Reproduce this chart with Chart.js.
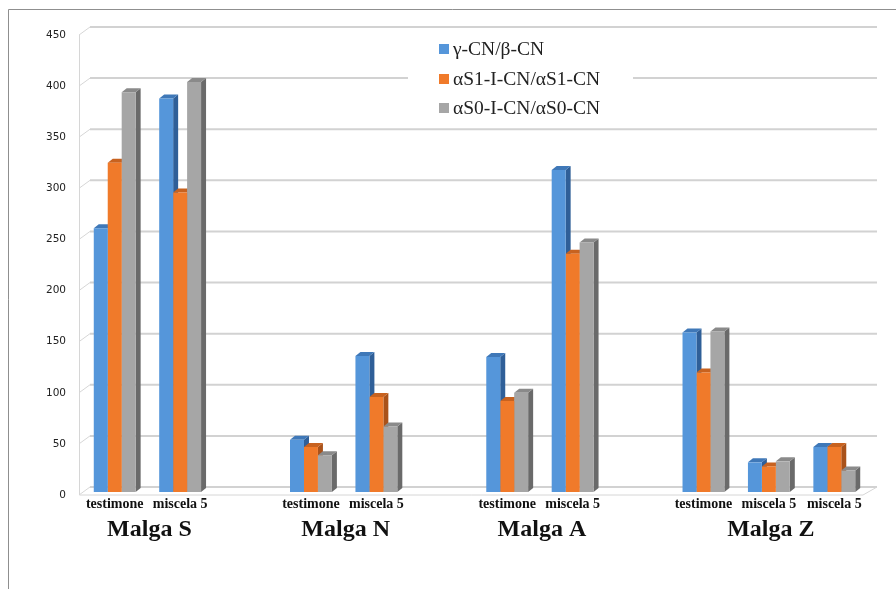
<!DOCTYPE html>
<html>
<head>
<meta charset="utf-8">
<title>Rapporti caseine per malga</title>
<style>
  html, body { margin: 0; padding: 0; background: #ffffff; }
  #wrap { width: 896px; height: 589px; position: relative; }
</style>
<script src="https://cdn.jsdelivr.net/npm/chart.js@4.4.1/dist/chart.umd.min.js"></script>
</head>
<body>
<div id="wrap"><canvas id="chart" width="896" height="589"></canvas></div>
<script>
// Samples per pasture; empty slots separate the pastures
const categories = ['testimone', 'miscela 5', '', 'testimone', 'miscela 5', '', 'testimone', 'miscela 5', '', 'testimone', 'miscela 5', 'miscela 5'];
const seriesNames = ['γ-CN/β-CN', 'αS1-I-CN/αS1-CN', 'αS0-I-CN/αS0-CN'];
const gammaBeta = [258, 385, null, 51, 133, null, 132, 315, null, 156, 29, 44];
const alphaS1 = [322, 293, null, 44, 93, null, 89, 233, null, 117, 25, 44];
const alphaS0 = [391, 401, null, 36, 64, null, 97, 244, null, 157, 30, 21];
const yTicks = [0, 50, 100, 150, 200, 250, 300, 350, 400, 450];
const groupLabels = ['Malga S', 'Malga N', 'Malga A', 'Malga Z'];
const groupFirst = [0, 3, 6, 9];
const groupLast = [1, 4, 7, 11];

const frontColors = ['#5596da', '#f07a2a', '#a6a6a6'];
const sideColors = ['#2f5f98', '#a9521a', '#6a6a6a'];
const topColors = ['#3f78b8', '#c8621f', '#8a8a8a'];

const DX = 5, DY = 4;           // depth of the bar side / top faces
const WALL_DX = 11, WALL_DY = 8; // depth of the back wall

const depthPlugin = {
  id: 'depth',
  beforeDatasetsDraw(chart) {
    const ctx = chart.ctx;
    const ys = chart.scales.y;
    const a = chart.chartArea;
    const fx = a.left - 3;
    ctx.save();
    // back wall grid and left wall
    ctx.lineWidth = 2;
    ctx.strokeStyle = '#d2d2d2';
    yTicks.forEach(v => {
      const y = ys.getPixelForValue(v);
      ctx.beginPath();
      ctx.moveTo(fx + WALL_DX, y - WALL_DY + 3);
      ctx.lineTo(a.right + 10, y - WALL_DY + 3);
      ctx.stroke();
    });
    ctx.lineWidth = 1;
    ctx.strokeStyle = '#d6d6d6';
    yTicks.forEach(v => {
      const y = ys.getPixelForValue(v);
      ctx.beginPath();
      ctx.moveTo(fx, y + 3);
      ctx.lineTo(fx + WALL_DX, y - WALL_DY + 3);
      ctx.stroke();
    });
    ctx.beginPath();
    ctx.moveTo(fx + 0.5, ys.getPixelForValue(450) + 3);
    ctx.lineTo(fx + 0.5, a.bottom + 3);
    ctx.lineTo(a.right - 4, a.bottom + 3);
    ctx.lineTo(a.right + 10, a.bottom - WALL_DY + 3);
    ctx.stroke();

    // side and top faces, drawn before the fronts
    chart.data.datasets.forEach((ds, i) => {
      const meta = chart.getDatasetMeta(i);
      meta.data.forEach((bar, j) => {
        if (ds.data[j] == null) return;
        const p = bar.getProps(['x', 'y', 'base', 'width'], true);
        const l = p.x - p.width / 2, r = p.x + p.width / 2;
        ctx.fillStyle = sideColors[i];
        ctx.beginPath();
        ctx.moveTo(r, p.y);
        ctx.lineTo(r + DX, p.y - DY);
        ctx.lineTo(r + DX, p.base - DY);
        ctx.lineTo(r, p.base);
        ctx.closePath();
        ctx.fill();
        ctx.fillStyle = topColors[i];
        ctx.beginPath();
        ctx.moveTo(l, p.y);
        ctx.lineTo(l + DX, p.y - DY);
        ctx.lineTo(r + DX, p.y - DY);
        ctx.lineTo(r, p.y);
        ctx.closePath();
        ctx.fill();
      });
    });
    ctx.restore();
  },
  afterDraw(chart) {
    const ctx = chart.ctx;
    const xs = chart.scales.x;
    ctx.save();
    // pasture names under the sample labels
    ctx.fillStyle = '#111111';
    ctx.font = 'bold 24px "Liberation Serif"';
    ctx.textAlign = 'center';
    ctx.textBaseline = 'middle';
    groupLabels.forEach((g, k) => {
      const x = (xs.getPixelForValue(groupFirst[k]) + xs.getPixelForValue(groupLast[k])) / 2 + 2;
      ctx.fillText(g, x, 530);
    });

    // legend box inside the plot
    ctx.fillStyle = '#ffffff';
    ctx.fillRect(408, 31, 225, 93);
    ctx.font = '19.5px "Liberation Serif"';
    ctx.textAlign = 'left';
    const rowY = [49, 79, 108];
    seriesNames.forEach((name, i) => {
      ctx.fillStyle = frontColors[i];
      ctx.fillRect(439, rowY[i] - 5, 10, 10);
      ctx.fillStyle = '#222222';
      ctx.fillText(name, 453, rowY[i] + 1);
    });

    // outer frame
    ctx.strokeStyle = '#8f8f8f';
    ctx.lineWidth = 1;
    ctx.beginPath();
    ctx.moveTo(8.5, 589);
    ctx.lineTo(8.5, 9.5);
    ctx.lineTo(896, 9.5);
    ctx.stroke();
    ctx.restore();
  }
};

const seriesData = [gammaBeta, alphaS1, alphaS0];

new Chart(document.getElementById('chart'), {
  type: 'bar',
  data: {
    labels: categories,
    datasets: seriesNames.map((name, i) => ({
      label: name,
      data: seriesData[i],
      backgroundColor: frontColors[i],
      borderWidth: 0,
      barPercentage: 1.0,
      categoryPercentage: 0.64
    }))
  },
  options: {
    responsive: false,
    animation: false,
    devicePixelRatio: 1,
    layout: { padding: { top: 32, right: 29, left: 0, bottom: 0 } },
    plugins: {
      legend: { display: false },
      tooltip: { enabled: false }
    },
    scales: {
      x: {
        grid: { display: false, drawTicks: false },
        border: { display: false },
        ticks: {
          autoSkip: false,
          maxRotation: 0,
          padding: 4,
          color: '#111111',
          font: { family: '"Liberation Serif"', size: 14, weight: 'bold' }
        },
        afterFit(scale) { scale.height = 97; }
      },
      y: {
        min: 0,
        max: 450,
        grid: { display: false, drawTicks: false },
        border: { display: false },
        ticks: {
          stepSize: 50,
          padding: 16,
          labelOffset: 3,
          color: '#222222',
          font: { family: '"DejaVu Sans"', size: 10.5 }
        },
        afterFit(scale) { scale.width = 82; }
      }
    }
  },
  plugins: [depthPlugin]
});
</script>
</body>
</html>
